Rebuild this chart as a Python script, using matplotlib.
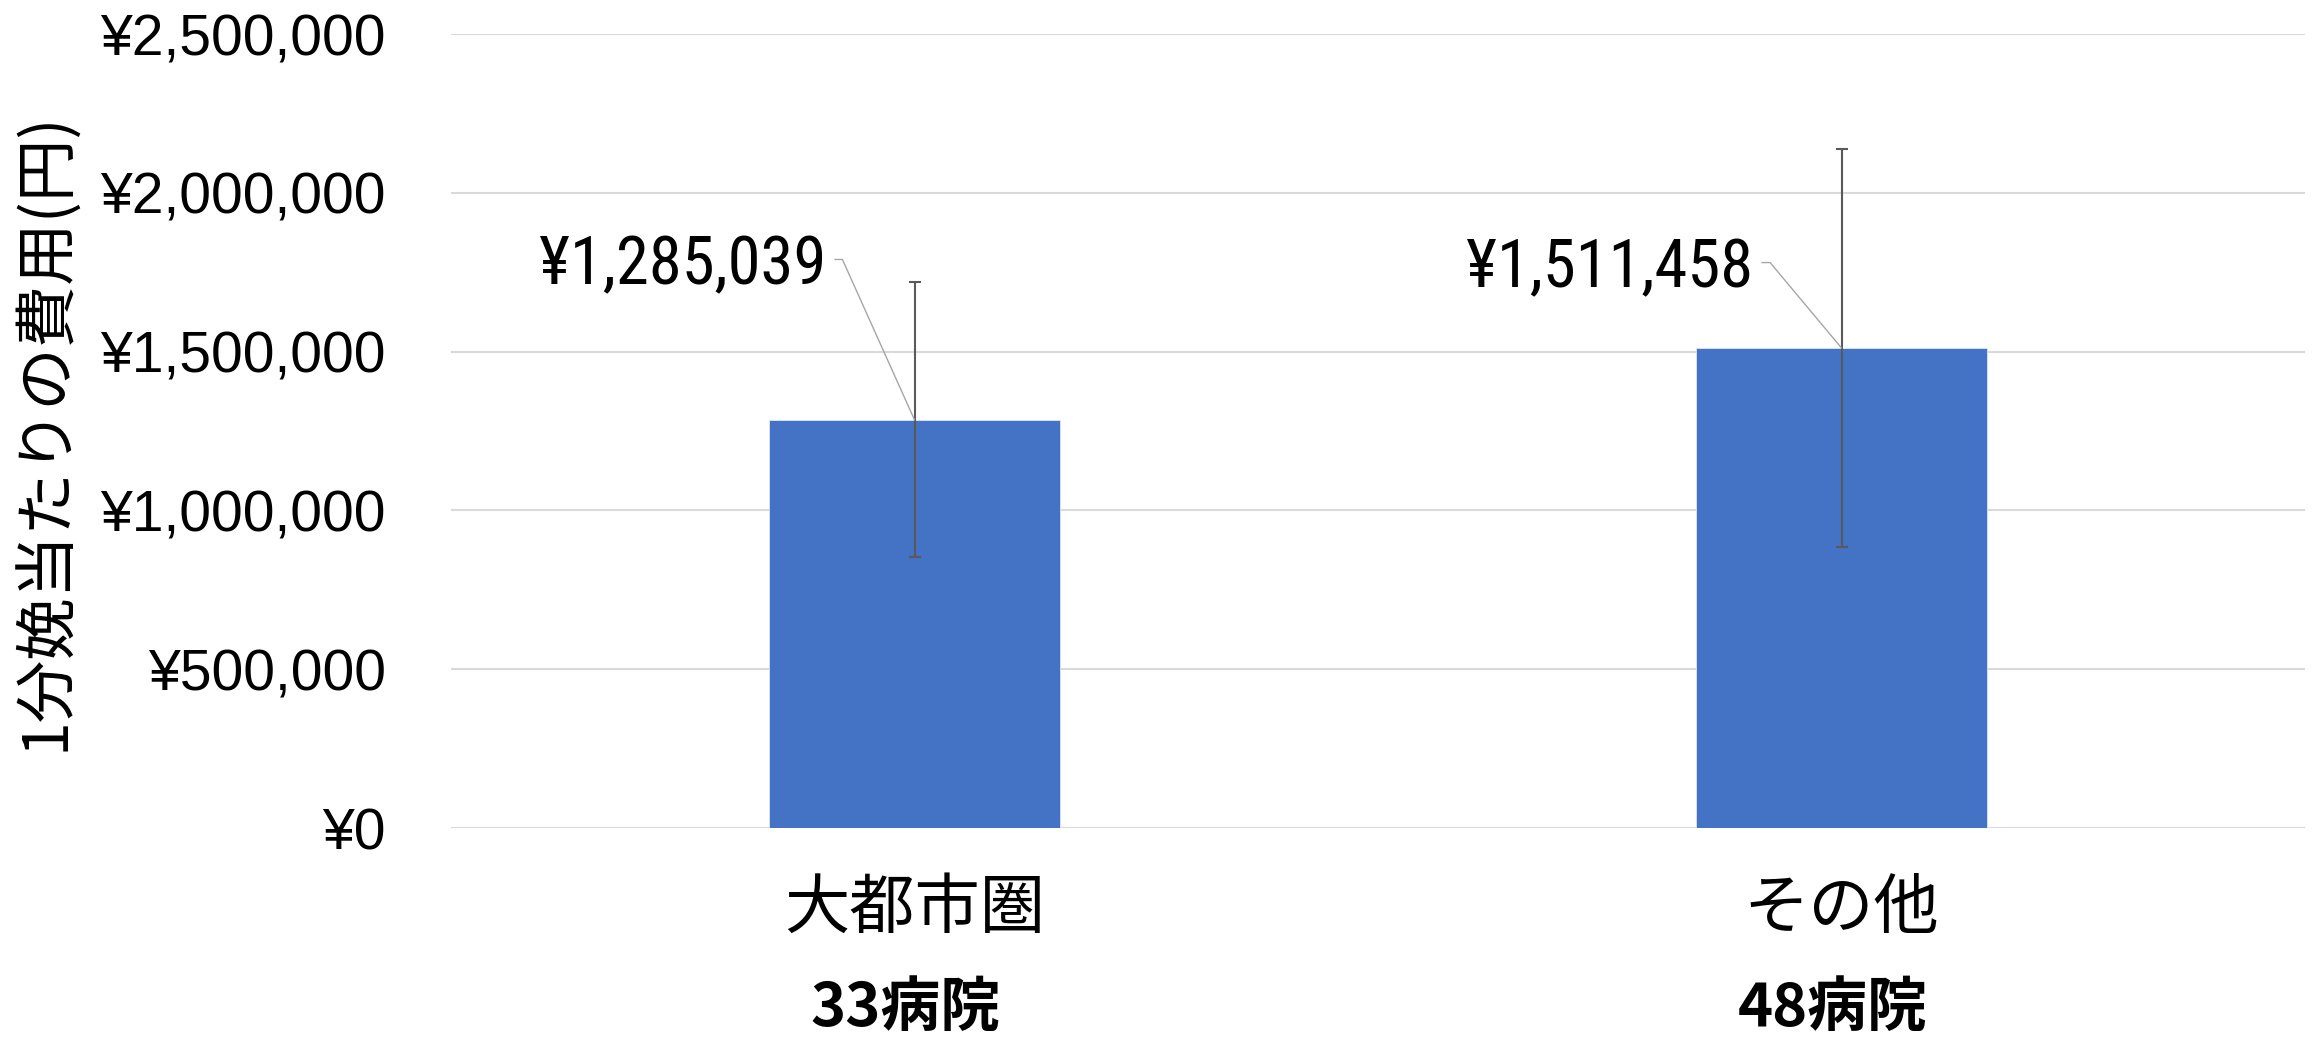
import matplotlib
matplotlib.use("Agg")
import matplotlib.pyplot as plt
import numpy as np

# ---- data ----
categories = ["大都市圏", "その他"]
hospital_counts = ["33病院", "48病院"]
cost_per_delivery = [1285039, 1511458]
cost_error = [433000, 628000]
value_labels = ["¥1,285,039", "¥1,511,458"]
y_ticks = [0, 500000, 1000000, 1500000, 2000000, 2500000]
y_label = "1分娩当たりの費用(円)"

# ---- style ----
CJK = ["Noto Sans CJK JP", "DejaVu Sans"]
LAT = ["Liberation Sans", "Noto Sans CJK JP", "DejaVu Sans"]
NARROW = ["Liberation Sans Narrow", "Roboto Condensed", "Liberation Sans", "Noto Sans CJK JP"]
plt.rcParams["font.family"] = CJK

fig = plt.figure(figsize=(23.2, 10.37), dpi=100)
ax = fig.add_axes([451 / 2320, 1 - 828 / 1037, (2305 - 451) / 2320, (828 - 34) / 1037])

x = np.arange(len(categories))
ax.bar(x, cost_per_delivery, width=0.313, color="#4472C4", edgecolor="#DCE6F7",
       linewidth=0.6, zorder=2)
ax.errorbar(x, cost_per_delivery, yerr=cost_error, fmt="none", ecolor="#595959",
            elinewidth=1.5, capsize=4.5, capthick=1.5, zorder=3)

ax.set_xlim(-0.5, len(categories) - 0.5)
ax.set_ylim(y_ticks[0], y_ticks[-1])
ax.set_yticks(y_ticks, ["¥{:,.0f}".format(v) for v in y_ticks], fontfamily=LAT, fontsize=41)
ax.grid(axis="y", color="#D9D9D9", linewidth=1.5, zorder=0)
ax.set_axisbelow(True)
for s in ax.spines.values():
    s.set_visible(False)
ax.tick_params(axis="y", length=0, pad=47)

ax.set_xticks(x, categories, fontfamily=CJK, fontsize=47, va="center")
ax.tick_params(axis="x", length=0, pad=59)

for i, h in enumerate(hospital_counts):
    ax.annotate(h, xy=(x[i], 0), xycoords=("data", "axes fraction"),
                xytext=(-9, -181), textcoords="offset pixels",
                ha="center", va="center", fontsize=43, fontweight="bold",
                fontfamily=CJK)

# data labels with leader lines
label_offsets = [(-88, 154), (-88, 79)]
leader_angles = [114.2, 129.9]
for i, lab in enumerate(value_labels):
    ax.annotate(lab, xy=(x[i], cost_per_delivery[i]), xycoords="data",
                xytext=label_offsets[i], textcoords="offset pixels",
                ha="right", va="center", fontsize=48, fontfamily=NARROW,
                arrowprops=dict(arrowstyle="-", color="#A6A6A6", lw=1.0,
                                relpos=(1, 0.6), patchA=None, shrinkA=6, shrinkB=0,
                                connectionstyle="angle,angleA=0,angleB=%g,rad=0" % leader_angles[i]),
                zorder=4)

ax.set_ylabel(y_label, fontsize=45, fontfamily=CJK, va="center")
ax.yaxis.set_label_coords((46 - 451) / 1854, 0.5)

fig.savefig("out.png", dpi=100, facecolor="white")
